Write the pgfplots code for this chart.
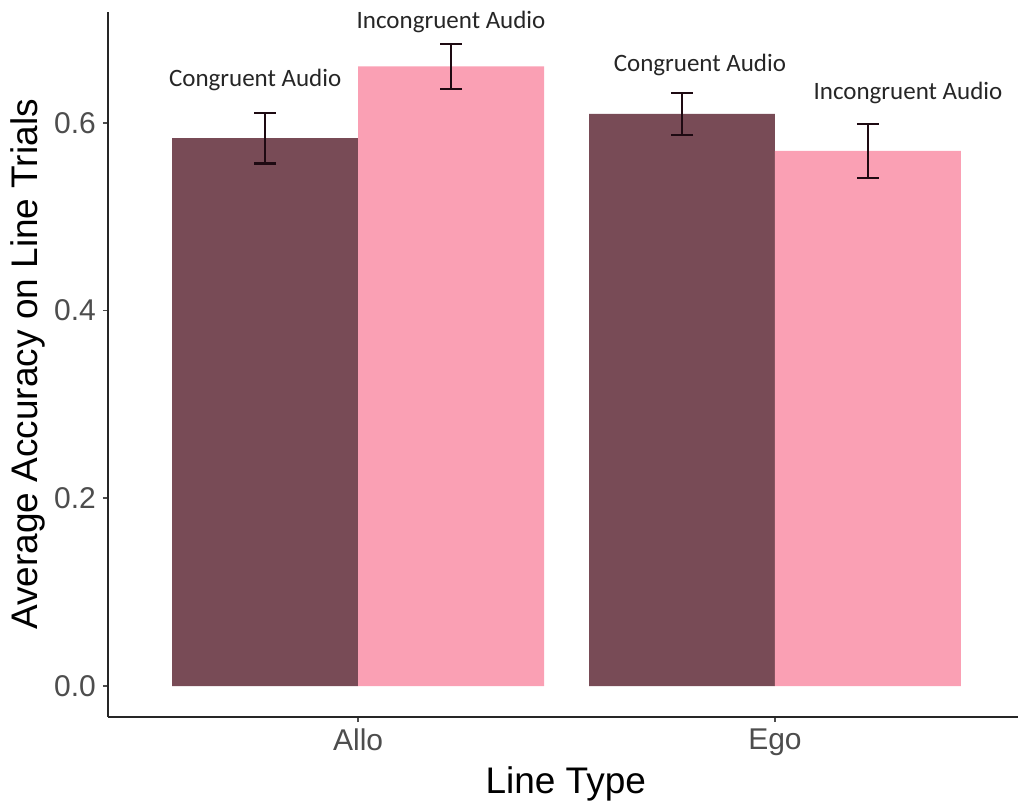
\documentclass[border=0pt]{standalone}
\usepackage{pgfplots}
\pgfplotsset{compat=1.18}
\usepackage{fontspec}
\setmainfont{Liberation Sans}
\newfontfamily\calib{Carlito}
\definecolor{barA}{RGB}{120,75,86}
\definecolor{barB}{RGB}{250,160,180}
\definecolor{errc}{RGB}{30,10,18}
\definecolor{tickc}{RGB}{77,77,77}
\begin{document}
\begin{tikzpicture}
\path[use as bounding box] (-54pt,-43pt) rectangle (456.5pt,358.5pt);
\begin{axis}[
  at={(0pt,0pt)}, anchor=south west,
  scale only axis, width=455pt, height=352.5pt,
  xmin=-0.6, xmax=1.583, ymin=-0.033, ymax=0.718,
  axis lines=left, axis line style={-, line width=1pt, color=black!85},
  clip=false,
  xtick={0,1}, xticklabels={Allo,Ego},
  ytick={0,0.2,0.4,0.6},
  yticklabel style={/pgf/number format/.cd, fixed, fixed zerofill, precision=1},
  /pgf/number format/assume math mode=true,
  tick align=outside, major tick length=2.5pt,
  tick style={color=tickc, line width=0.8pt},
  ticklabel style={font=\fontsize{15}{18}\selectfont, text=tickc},
  xlabel={Line Type}, ylabel={Average Accuracy on Line Trials},
  label style={font=\fontsize{18.5}{22}\selectfont, text=black},
  xlabel style={at={(axis description cs:0.503,-0.108)}, anchor=base},
  ylabel style={at={(axis description cs:-0.078,0.5)}, anchor=base},
]
\addplot[ybar, bar width=0.446, bar shift=-0.223, fill=barA, draw=none]
  coordinates {(0,0.5836) (1,0.6095)};
\addplot[ybar, bar width=0.446, bar shift=0.223, fill=barB, draw=none]
  coordinates {(0,0.660) (1,0.570)};
\addplot[draw=none, mark=none, forget plot,
  error bars/.cd, y dir=both, y explicit,
  error bar style={color=errc, line width=1.1pt},
  error mark options={rotate=90, mark size=5.5pt, line width=1.1pt, color=errc}]
  coordinates {(-0.223,0.5836) +- (0,0.027) (0.777,0.6095) +- (0,0.0225)
               (0.223,0.660) +- (0,0.024) (1.223,0.570) +- (0,0.029)};
\node[font=\calib\fontsize{12.5}{15}\selectfont, text=black!85] at (axis cs:-0.247,0.6457) {Congruent Audio};
\node[font=\calib\fontsize{12.5}{15}\selectfont, text=black!85] at (axis cs:0.223,0.7078) {Incongruent Audio};
\node[font=\calib\fontsize{12.5}{15}\selectfont, text=black!85] at (axis cs:0.820,0.6617) {Congruent Audio};
\node[font=\calib\fontsize{12.5}{15}\selectfont, text=black!85] at (axis cs:1.319,0.6319) {Incongruent Audio};
\end{axis}
\end{tikzpicture}
\end{document}
